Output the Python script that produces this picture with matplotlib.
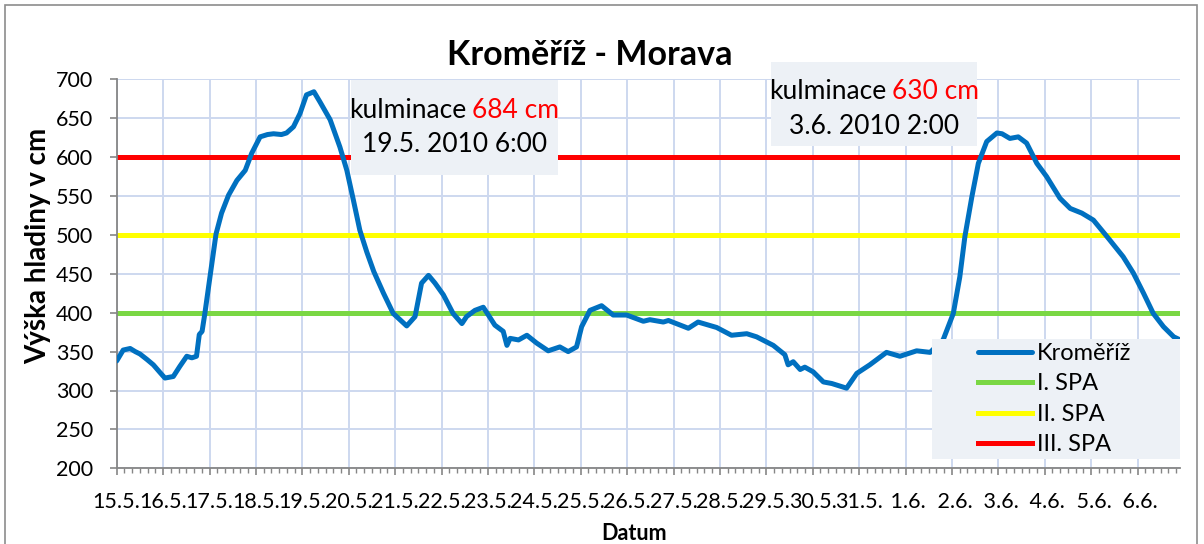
import matplotlib
matplotlib.use("Agg")
import matplotlib.pyplot as plt
from matplotlib.patches import Rectangle
from matplotlib.ticker import MultipleLocator

plt.rcParams['font.family'] = ['Lato', 'DejaVu Sans']

# doba od 15.5. 0:00 ve dnech, vodni stav v cm
den = [0.00, 0.14, 0.29, 0.40, 0.50, 0.65, 0.79, 0.95, 1.04, 1.22, 1.36, 1.51,
       1.62, 1.72, 1.78, 1.84, 1.90, 2.01, 2.14, 2.26, 2.41, 2.59, 2.77, 2.91,
       3.09, 3.25, 3.38, 3.55, 3.66, 3.81, 3.95, 4.09, 4.25, 4.38, 4.60, 4.81,
       4.96, 5.10, 5.24, 5.39, 5.54, 5.75, 5.96, 6.25, 6.43, 6.57, 6.72, 6.86,
       7.04, 7.25, 7.44, 7.54, 7.72, 7.90, 8.01, 8.15, 8.33, 8.41, 8.48, 8.66,
       8.84, 9.05, 9.30, 9.55, 9.73, 9.91, 10.02, 10.20, 10.45, 10.70, 10.99,
       11.35, 11.49, 11.78, 11.89, 12.32, 12.53, 12.93, 13.25, 13.58, 13.79,
       14.15, 14.40, 14.47, 14.58, 14.73, 14.83, 15.01, 15.23, 15.41, 15.73,
       15.80, 15.95, 16.23, 16.59, 16.88, 17.24, 17.53, 17.81, 18.03, 18.17,
       18.28, 18.43, 18.57, 18.75, 18.97, 19.08, 19.25, 19.43, 19.61, 19.83,
       20.04, 20.33, 20.55, 20.80, 21.05, 21.34, 21.69, 21.91, 22.13, 22.34,
       22.56, 22.78, 22.92]
stav = [338, 352, 354, 350, 347, 340, 333, 322, 316, 318, 331, 344,
        342, 344, 372, 376, 399, 446, 501, 528, 551, 570, 583, 605,
        626, 629, 630, 629, 631, 639, 656, 680, 684, 671, 648, 613,
        583, 545, 506, 478, 453, 425, 399, 383, 395, 438, 448, 438,
        423, 399, 386, 395, 403, 407, 397, 384, 376, 358, 367, 365,
        371, 361, 351, 356, 350, 356, 382, 403, 409, 397, 397,
        389, 391, 388, 390, 380, 388, 381, 371, 373, 369,
        358, 346, 333, 337, 327, 330, 324, 311, 309, 303,
        309, 322, 333, 349, 344, 351, 349, 365, 399, 446,
        498, 549, 592, 620, 631, 630, 624, 626, 618, 592,
        575, 547, 534, 528, 519, 498, 472, 451, 425, 399,
        382, 369, 365]

datum_labels = ['15.5.', '16.5.', '17.5.', '18.5.', '19.5.', '20.5.', '21.5.',
                '22.5.', '23.5.', '24.5.', '25.5.', '26.5.', '27.5.', '28.5.',
                '29.5.', '30.5.', '31.5.', ' 1.6.', ' 2.6.', ' 3.6.', ' 4.6.',
                ' 5.6.', ' 6.6.']

spa_names = ['I. SPA', 'II. SPA', 'III. SPA']
spa_levels = [400, 500, 600]
spa_colors = ['#7ad744', '#ffff00', '#ff0000']

W, H = 1204, 544


def fx(x):
    return x / W


def fy(y):
    return 1 - y / H


fig = plt.figure(figsize=(W / 100, H / 100), dpi=100)
ax = fig.add_axes([fx(116.7), fy(468.3), fx(1180.2) - fx(116.7), fy(79.3) - fy(468.3)])

ax.plot(den, stav, color='#0070c0', lw=3.6, zorder=3, label='Kroměříž',
        solid_joinstyle='round', solid_capstyle='round')
for name, lvl, col in zip(spa_names, spa_levels, spa_colors):
    ax.axhline(lvl, color=col, lw=3.6, zorder=2, label=name)

ax.set_xlim(0, 22.92)
ax.set_ylim(200, 700)
ax.yaxis.set_major_locator(MultipleLocator(50))
ax.set_xticks(range(len(datum_labels)))
ax.set_xticklabels(datum_labels)
ax.xaxis.set_minor_locator(MultipleLocator(1 / 6))
ax.grid(True, which='major', color='#cdd8ef', lw=1.4, zorder=0)
ax.set_axisbelow(True)

for s in ['top', 'right']:
    ax.spines[s].set_visible(False)
for s in ['left', 'bottom']:
    ax.spines[s].set_color('#868686')
    ax.spines[s].set_linewidth(1.3)

ax.tick_params(axis='y', which='major', length=5, width=1.2, color='#868686',
               labelsize=15.5, pad=12)
ax.tick_params(axis='x', which='major', length=5, width=1.2, color='#868686',
               labelsize=15.5, pad=12)
ax.tick_params(axis='x', which='minor', length=3.5, width=1, color='#868686')

fig.text(fx(590), fy(55), 'Kroměříž - Morava', ha='center', va='center',
         fontsize=24.5, fontweight='bold')
fig.text(fx(38), fy(246), 'Výška hladiny v cm', ha='center', va='center',
         rotation=90, fontsize=20, fontweight='bold')
fig.text(fx(634), fy(534), 'Datum', ha='center', va='center',
         fontsize=15.5, fontweight='bold')

box_col = '#edf1f6'
# popisky kulminace
for (x0, y0, x1, y1, split, l1, l2, red, date) in [
        (350.7, 80, 558.3, 175, 466, 110, 145, '684 cm', '19.5. 2010 6:00'),
        (770.7, 61.7, 976.7, 146, 886, 91.7, 126.7, '630 cm', '3.6. 2010 2:00')]:
    ax.add_patch(Rectangle((fx(x0), fy(y1)), fx(x1) - fx(x0), fy(y0) - fy(y1),
                           transform=fig.transFigure, facecolor=box_col,
                           edgecolor='none', zorder=4, clip_on=False))
    ax.text(fx(split), fy(l1), 'kulminace', transform=fig.transFigure,
            ha='right', va='center', fontsize=19, zorder=6)
    ax.text(fx(split + 6), fy(l1), red, transform=fig.transFigure,
            ha='left', va='center', fontsize=19, color='#ff0000', zorder=6)
    ax.text(fx((x0 + x1) / 2), fy(l2), date, transform=fig.transFigure,
            ha='center', va='center', fontsize=19, zorder=6)

ax.add_patch(Rectangle((fx(931.7), fy(459.3)), fx(1180) - fx(931.7), fy(339.3) - fy(459.3),
                       transform=fig.transFigure, facecolor=box_col,
                       edgecolor='none', zorder=7, clip_on=False))
leg = ax.legend(loc='upper left', bbox_to_anchor=(fx(978), fy(343)),
                bbox_transform=fig.transFigure, frameon=False, fontsize=17,
                handlelength=2.3, handletextpad=0.2, borderpad=0,
                borderaxespad=0, labelspacing=0.4)
leg.set_zorder(8)

fig.add_artist(Rectangle((fx(5), fy(560)), fx(1197) - fx(5), fy(5) - fy(560),
                         transform=fig.transFigure, fill=False,
                         edgecolor='#8c8c8c', lw=1.2))

fig.savefig('out.png', dpi=100)
